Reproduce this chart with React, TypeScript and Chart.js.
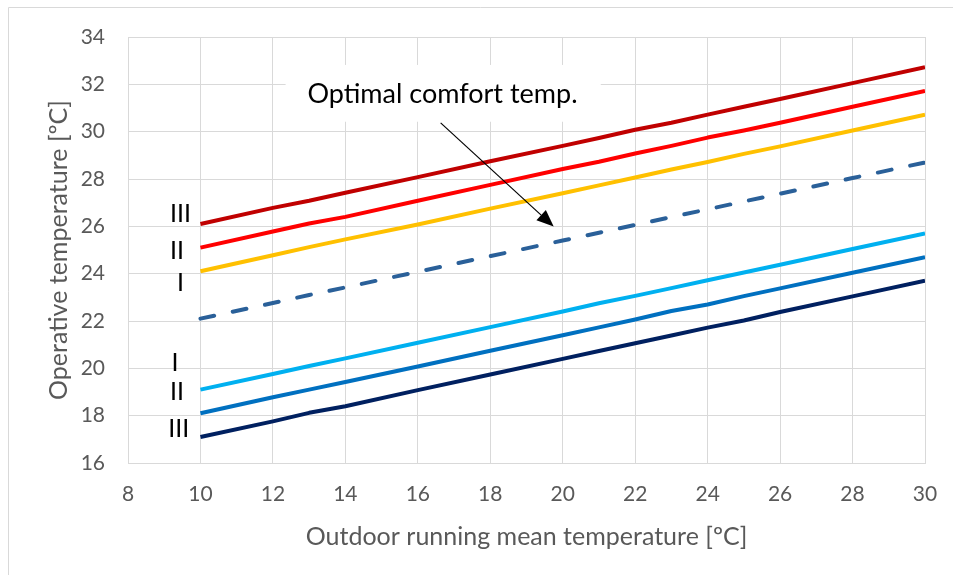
import React, { useEffect, useRef } from "react";
import { Chart, registerables } from "chart.js";

Chart.register(...registerables);

const xValues = [10, 12, 13, 14, 16, 18, 20, 21, 22, 23, 24, 25, 26, 28, 30];
const upperIII = [26.1, 26.78, 27.08, 27.42, 28.08, 28.75, 29.4, 29.73, 30.08, 30.38, 30.72, 31.05, 31.38, 32.05, 32.72];
const upperII = [25.1, 25.78, 26.12, 26.4, 27.08, 27.75, 28.42, 28.73, 29.08, 29.4, 29.75, 30.05, 30.38, 31.05, 31.72];
const upperI = [24.1, 24.78, 25.12, 25.45, 26.08, 26.75, 27.4, 27.73, 28.06, 28.4, 28.72, 29.06, 29.38, 30.05, 30.72];
const optimal = [22.1, 22.76, 23.1, 23.42, 24.08, 24.74, 25.4, 25.73, 26.06, 26.39, 26.72, 27.05, 27.38, 28.04, 28.7];
const lowerI = [19.1, 19.76, 20.1, 20.42, 21.08, 21.74, 22.4, 22.75, 23.06, 23.39, 23.72, 24.05, 24.38, 25.04, 25.7];
const lowerII = [18.1, 18.78, 19.1, 19.42, 20.08, 20.74, 21.4, 21.73, 22.06, 22.42, 22.7, 23.05, 23.38, 24.04, 24.7];
const lowerIII = [17.1, 17.76, 18.12, 18.4, 19.08, 19.74, 20.4, 20.73, 21.06, 21.39, 21.72, 22.02, 22.38, 23.04, 23.7];

const categoryLabels = ["III", "II", "I", "I", "II", "III"];
const categoryLabelX = [9.45, 9.35, 9.45, 9.3, 9.35, 9.4];
const categoryLabelY = [26.54, 24.98, 23.59, 20.21, 18.99, 17.43];

const annotationText = "Optimal comfort temp.";
const xTitle = "Outdoor running mean temperature [ºC]";
const yTitle = "Operative temperature [ºC]";

const FONT = "Lato, 'Open Sans', sans-serif";
const GRAY = "#595959";
const GRID = "#d9d9d9";

const overlayPlugin = {
  id: "overlay",
  beforeDraw(chart: any) {
    const { ctx } = chart;
    ctx.save();
    ctx.strokeStyle = GRID;
    ctx.lineWidth = 1;
    ctx.beginPath();
    ctx.moveTo(8.5, 575);
    ctx.lineTo(8.5, 7.5);
    ctx.lineTo(953, 7.5);
    ctx.stroke();
    ctx.restore();
  },
  afterDatasetsDraw(chart: any) {
    const { ctx } = chart;
    const x = chart.scales.x;
    const y = chart.scales.y;
    ctx.save();
    // annotation box
    const bx1 = x.getPixelForValue(12.35);
    const bx2 = x.getPixelForValue(21.05);
    const by1 = y.getPixelForValue(32.82);
    const by2 = y.getPixelForValue(30.42);
    ctx.fillStyle = "#ffffff";
    ctx.fillRect(bx1, by1, bx2 - bx1, by2 - by1);
    ctx.fillStyle = "#000000";
    ctx.font = `27px ${FONT}`;
    ctx.textAlign = "center";
    ctx.textBaseline = "alphabetic";
    ctx.fillText(annotationText, x.getPixelForValue(16.68), y.getPixelForValue(31.22));

    // arrow
    const ax1 = x.getPixelForValue(16.63);
    const ay1 = y.getPixelForValue(30.37);
    const ax2 = x.getPixelForValue(19.75);
    const ay2 = y.getPixelForValue(25.99);
    const ang = Math.atan2(ay2 - ay1, ax2 - ax1);
    const headLen = 17;
    const headW = 7;
    const bxp = ax2 - headLen * Math.cos(ang);
    const byp = ay2 - headLen * Math.sin(ang);
    ctx.strokeStyle = "#000000";
    ctx.lineWidth = 1.2;
    ctx.beginPath();
    ctx.moveTo(ax1, ay1);
    ctx.lineTo(bxp, byp);
    ctx.stroke();
    ctx.beginPath();
    ctx.moveTo(ax2, ay2);
    ctx.lineTo(bxp + headW * Math.sin(ang), byp - headW * Math.cos(ang));
    ctx.lineTo(bxp - headW * Math.sin(ang), byp + headW * Math.cos(ang));
    ctx.closePath();
    ctx.fillStyle = "#000000";
    ctx.fill();

    // category labels
    ctx.font = `25px ${FONT}`;
    ctx.textBaseline = "middle";
    ctx.textAlign = "center";
    categoryLabels.forEach((t, i) => {
      ctx.fillText(t, x.getPixelForValue(categoryLabelX[i]), y.getPixelForValue(categoryLabelY[i]));
    });
    ctx.restore();
  },
};

function series(label: string, values: number[], color: string, dash: number[] = []) {
  return {
    label,
    data: xValues.map((xv, i) => ({ x: xv, y: values[i] })),
    borderColor: color,
    backgroundColor: color,
    borderWidth: 4,
    borderDash: dash,
    borderCapStyle: dash.length ? "round" : "butt",
    borderJoinStyle: "round",
    pointRadius: 0,
    pointHoverRadius: 0,
    tension: 0,
    fill: false,
  };
}

export default function App() {
  const ref = useRef<HTMLCanvasElement | null>(null);
  useEffect(() => {
    if (!ref.current) return;
    const chart = new Chart(ref.current, {
      type: "line",
      data: {
        datasets: [
          series("Upper III", upperIII, "#c00000"),
          series("Upper II", upperII, "#ff0000"),
          series("Upper I", upperI, "#ffc000"),
          series("Optimal", optimal, "#2a6099", [14, 19]),
          series("Lower I", lowerI, "#00b0f0"),
          series("Lower II", lowerII, "#0070c0"),
          series("Lower III", lowerIII, "#002060"),
        ] as any,
      },
      options: {
        animation: false,
        responsive: false,
        maintainAspectRatio: false,
        layout: { padding: { left: 0, top: 37, right: 28, bottom: 0 } },
        plugins: { legend: { display: false }, tooltip: { enabled: false } },
        scales: {
          x: {
            type: "linear",
            min: 8,
            max: 30,
            ticks: { stepSize: 2, color: GRAY, font: { family: FONT, size: 21 }, padding: 19 },
            grid: { color: GRID, lineWidth: 1, drawTicks: false },
            border: { color: GRID },
            title: {
              display: true,
              text: xTitle,
              color: GRAY,
              font: { family: FONT, size: 25 },
              padding: { top: 0, bottom: 23 },
            },
            afterFit(scale: any) {
              scale.height = 112;
              scale.paddingRight = 0;
              scale.paddingLeft = 0;
            },
          },
          y: {
            type: "linear",
            min: 16,
            max: 34,
            ticks: { stepSize: 2, color: GRAY, font: { family: FONT, size: 21 }, padding: 23 },
            grid: { color: GRID, lineWidth: 1, drawTicks: false },
            border: { color: GRID },
            title: {
              display: true,
              text: yTitle,
              color: GRAY,
              font: { family: FONT, size: 25 },
              padding: { top: 44, bottom: 0 },
            },
            afterFit(scale: any) {
              scale.width = 128;
            },
          },
        },
      } as any,
      plugins: [overlayPlugin],
    });
    return () => chart.destroy();
  }, []);
  return (
    <div style={{ position: "absolute", left: 0, top: 0, width: 953, height: 575 }}>
      <canvas ref={ref} width={953} height={575} style={{ width: 953, height: 575, display: "block" }} />
    </div>
  );
}
